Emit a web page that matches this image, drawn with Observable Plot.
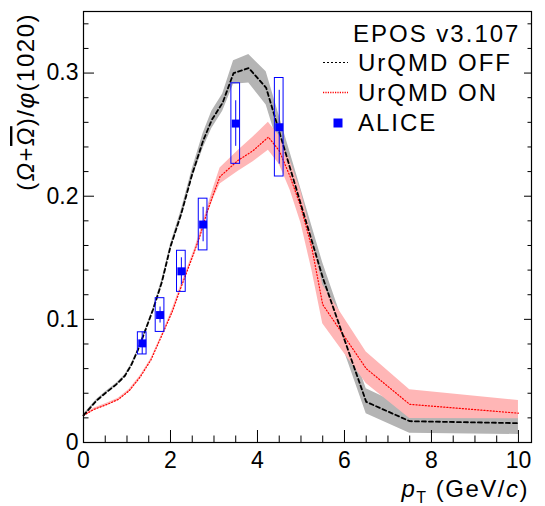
<!DOCTYPE html>
<html><head><meta charset="utf-8">
<script src="https://cdn.jsdelivr.net/npm/d3@7"></script>
<script src="https://cdn.jsdelivr.net/npm/@observablehq/plot@0.6"></script>
<style>
body{margin:0;background:#fff;}
#chart{width:545px;height:506px;}
svg{font-family:"Liberation Sans",Arial,Helvetica,sans-serif;}
</style></head><body><div id="chart"></div>
<script>
// EPOS v3.107, UrQMD OFF (black dashed + gray band)
const offX  = [0, 0.3, 0.5, 0.75, 0.95, 1.1, 1.25, 1.4, 1.6, 1.8, 2.0, 2.25, 2.5, 2.75, 2.95, 3.2, 3.45, 3.8, 4.2, 5.5, 6.5, 7.5, 10];
const offY  = [0.022, 0.034, 0.040, 0.047, 0.054, 0.063, 0.075, 0.089, 0.108, 0.130, 0.159, 0.186, 0.218, 0.245, 0.262, 0.276, 0.300, 0.304, 0.288, 0.134, 0.033, 0.0173, 0.0157];
const offLo = [0.021, 0.033, 0.039, 0.046, 0.053, 0.062, 0.074, 0.088, 0.107, 0.128, 0.157, 0.183, 0.214, 0.239, 0.255, 0.269, 0.291, 0.292, 0.274, 0.124, 0.0233, 0.0076, 0.0065];
const offHi = [0.023, 0.035, 0.041, 0.048, 0.055, 0.064, 0.076, 0.090, 0.109, 0.132, 0.161, 0.189, 0.222, 0.251, 0.269, 0.283, 0.310, 0.315, 0.301, 0.146, 0.0437, 0.027, 0.025];

// EPOS v3.107, UrQMD ON (red dotted + pink band)
const onX  = [0, 0.25, 0.55, 0.8, 1.05, 1.3, 1.55, 1.84, 2.05, 2.2, 2.36, 2.55, 2.68, 2.84, 3.0, 3.14, 3.55, 3.9, 4.25, 4.5, 4.75, 5.0, 5.25, 5.5, 6.5, 7.5, 10];
const onY  = [0.022, 0.027, 0.031, 0.035, 0.042, 0.053, 0.067, 0.090, 0.107, 0.122, 0.137, 0.155, 0.168, 0.187, 0.203, 0.216, 0.229, 0.237, 0.248, 0.237, 0.216, 0.191, 0.158, 0.112, 0.060, 0.031, 0.0238];
const onLo = [0.021, 0.026, 0.030, 0.034, 0.041, 0.052, 0.066, 0.089, 0.105, 0.120, 0.135, 0.153, 0.165, 0.184, 0.199, 0.210, 0.220, 0.228, 0.2374, 0.226, 0.205, 0.178, 0.140, 0.0965, 0.048, 0.0195, 0.0192];
const onHi = [0.023, 0.028, 0.032, 0.036, 0.043, 0.054, 0.068, 0.091, 0.109, 0.124, 0.139, 0.157, 0.171, 0.190, 0.208, 0.223, 0.237, 0.248, 0.260, 0.249, 0.229, 0.204, 0.168, 0.128, 0.0734, 0.0428, 0.0341];

// ALICE data
const aliceX    = [1.35, 1.76, 2.25, 2.75, 3.5, 4.5];
const aliceY    = [0.0805, 0.1035, 0.139, 0.177, 0.259, 0.256];
const aliceStat = [0.009, 0.0065, 0.011, 0.014, 0.0185, 0.030];
const aliceSys  = [0.009, 0.0137, 0.0167, 0.021, 0.0327, 0.040];
const boxHalfWidth = 0.1;

// ticks
const xMajor = [0, 2, 4, 6, 8, 10];
const xMinor = d3.range(0, 10.01, 0.5).filter(v => Math.abs(v % 2) > 1e-9);
const yMajor = [0, 0.1, 0.2, 0.3];
const yMinor = d3.range(0.02, 0.345, 0.02).filter(v => Math.abs(v*10 - Math.round(v*10)) > 1e-6);

const legendLabels = ["EPOS v3.107", "UrQMD OFF", "UrQMD ON", "ALICE"];

const offRows = offX.map((x, i) => ({x, y: offY[i], lo: offLo[i], hi: offHi[i]}));
const onRows  = onX.map((x, i) => ({x, y: onY[i], lo: onLo[i], hi: onHi[i]}));
const alice   = aliceX.map((x, i) => ({x, y: aliceY[i], stat: aliceStat[i], sys: aliceSys[i]}));

const noText = () => "";
const plot = Plot.plot({
  width: 545, height: 506,
  marginLeft: 83, marginRight: 14, marginTop: 11, marginBottom: 64,
  style: {background: "white", fontFamily: '"Liberation Sans", Arial, Helvetica, sans-serif', overflow: "visible"},
  x: {domain: [0, 10.3]},
  y: {domain: [0, 0.35]},
  marks: [
    Plot.areaY(offRows, {x: "x", y1: "lo", y2: "hi", fill: "#b4b4b4"}),
    Plot.areaY(onRows,  {x: "x", y1: "lo", y2: "hi", fill: "#ffb6b6"}),
    Plot.line(onRows,  {x: "x", y: "y", stroke: "#ff0000", strokeWidth: 1.2, strokeDasharray: "1.1,2"}),
    Plot.line(offRows, {x: "x", y: "y", stroke: "#000000", strokeWidth: 1.8, strokeDasharray: "4,3"}),
    Plot.rect(alice, {x1: d => d.x - boxHalfWidth, x2: d => d.x + boxHalfWidth, y1: d => d.y - d.sys, y2: d => d.y + d.sys, fill: "none", stroke: "#0000ff", strokeWidth: 1}),
    Plot.ruleX(alice, {x: "x", y1: d => d.y - d.stat, y2: d => d.y + d.stat, stroke: "#0000ff", strokeWidth: 1}),
    Plot.dot(alice, {x: "x", y: "y", symbol: "square", r: 4.5, fill: "#0000ff", stroke: "none"}),
    // axes: labels
    Plot.axisY(yMajor, {anchor: "left", tickSize: 0, tickPadding: 5, fontSize: 23, tickFormat: d => d === 0 ? "0" : d.toFixed(1), label: null}),
    Plot.axisX(xMajor, {anchor: "bottom", tickSize: 0, tickPadding: 9, fontSize: 23, tickFormat: d => String(d), label: null}),
    // inward ticks
    Plot.axisY(yMajor, {anchor: "left", tickSize: -11, tickFormat: noText, label: null}),
    Plot.axisY(yMinor, {anchor: "left", tickSize: -5.5, tickFormat: noText, label: null}),
    Plot.axisY(yMajor, {anchor: "right", tickSize: -8, tickFormat: noText, label: null}),
    Plot.axisY(yMinor, {anchor: "right", tickSize: -4.5, tickFormat: noText, label: null}),
    Plot.axisX(xMajor, {anchor: "bottom", tickSize: -12, tickFormat: noText, label: null}),
    Plot.axisX(xMinor, {anchor: "bottom", tickSize: -6.5, tickFormat: noText, label: null}),
    Plot.frame({stroke: "black", strokeWidth: 1.2})
  ]
});
document.getElementById("chart").appendChild(plot);

// Titles and legend
const svg = d3.select(plot);
const ff = '"Liberation Sans", Arial, Helvetica, sans-serif';

// y title
const yt = svg.append("text")
  .attr("transform", "translate(34,13) rotate(-90)")
  .attr("text-anchor", "end").attr("font-size", 24).attr("letter-spacing", 1.5)
  .attr("font-family", ff).attr("fill", "black");
yt.append("tspan").text("(");
yt.append("tspan").attr("font-style", "italic").text("Ω");
yt.append("tspan").text("+");
yt.append("tspan").attr("font-style", "italic").attr("text-decoration", "overline").text("Ω");
yt.append("tspan").text(")/");
yt.append("tspan").attr("font-style", "italic").text("φ");
yt.append("tspan").text("(1020)");

// x title
const xt = svg.append("text")
  .attr("x", 529).attr("y", 497)
  .attr("text-anchor", "end").attr("font-size", 24).attr("letter-spacing", 1.5)
  .attr("font-family", ff).attr("fill", "black");
xt.append("tspan").attr("font-style", "italic").text("p");
xt.append("tspan").attr("font-size", 16).attr("dy", 6).text("T");
xt.append("tspan").attr("dy", -6).text(" (GeV/");
xt.append("tspan").attr("font-style", "italic").text("c");
xt.append("tspan").text(")");

// legend
const lg = svg.append("g").attr("font-family", ff).attr("font-size", 24).attr("letter-spacing", 2)
  .attr("fill", "black").attr("text-anchor", "start");
const rowsY = [41.5, 71, 100.5, 130.5];
const textX = [353, 358, 358, 358];
legendLabels.forEach((t, i) => lg.append("text").attr("x", textX[i]).attr("y", rowsY[i]).attr("text-anchor", "start").text(t));
lg.append("line").attr("x1", 323).attr("x2", 348).attr("y1", 62.5).attr("y2", 62.5)
  .attr("stroke", "black").attr("stroke-width", 1.2).attr("stroke-dasharray", "2,2");
lg.append("line").attr("x1", 323).attr("x2", 348).attr("y1", 92.5).attr("y2", 92.5)
  .attr("stroke", "#ff0000").attr("stroke-width", 1.4).attr("stroke-dasharray", "1.2,1.2");
lg.append("rect").attr("x", 333.5).attr("y", 118.5).attr("width", 9).attr("height", 9).attr("fill", "#0000ff");
</script>
</body></html>
